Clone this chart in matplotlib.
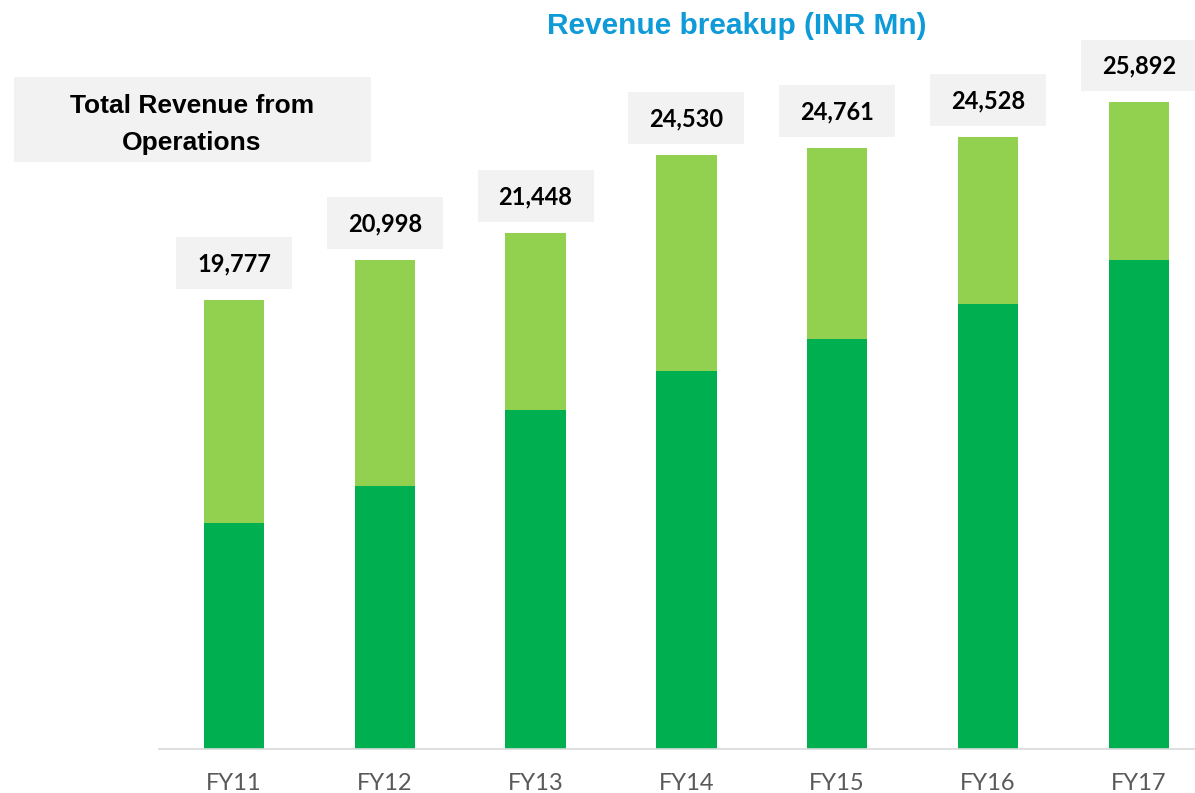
"""
Revenue breakup stacked bar chart (INR Mn).
"""

import matplotlib
matplotlib.use("Agg")
import matplotlib.pyplot as plt
from matplotlib.patches import Rectangle

# Data
years = ["FY11", "FY12", "FY13", "FY14", "FY15", "FY16", "FY17"]
base_segment = [9040, 10520, 13560, 15120, 16400, 17800, 19560]   # dark green
top_segment = [8920, 9040, 7080, 8640, 7640, 6680, 6320]          # light green
total_labels = [19777, 20998, 21448, 24530, 24761, 24528, 25892]

DARK_GREEN = "#00b050"
LIGHT_GREEN = "#92d050"
BOX_GREY = "#f2f2f2"
TITLE_BLUE = "#0f9ad8"

W, H = 1195, 793
fig = plt.figure(figsize=(W / 100, H / 100), dpi=100)

# axes placed in pixel terms: baseline at y=748.5, left edge at x=159
ax_left, ax_bottom, ax_top = 159, 748.5, 40
ax = fig.add_axes([ax_left / W, 1 - ax_bottom / H, 1 - ax_left / W,
                   (ax_bottom - ax_top) / H])

units_per_px = 40.0
x = list(range(len(years)))
width = 0.40

ax.bar(x, base_segment, width, color=DARK_GREEN, zorder=2)
ax.bar(x, top_segment, width, bottom=base_segment, color=LIGHT_GREEN, zorder=2)

ax.set_xlim(-0.497, 6.373)
ax.set_ylim(0, (ax_bottom - ax_top) * units_per_px)

# value boxes above bars
box_w = 116 / 150.8
box_h = 52 * units_per_px
gap = 11 * units_per_px
for xi, b, t, lab in zip(x, base_segment, top_segment, total_labels):
    top = b + t
    y0 = top + gap
    ax.add_patch(Rectangle((xi - box_w / 2, y0), box_w, box_h,
                           facecolor=BOX_GREY, edgecolor="none", zorder=3))
    ax.text(xi, y0 + box_h / 2 - 9 * units_per_px, f"{lab:,}",
            ha="center", va="baseline", fontsize=17, fontweight="bold",
            family="Lato", color="black", zorder=4)

for side in ["left", "right", "top"]:
    ax.spines[side].set_visible(False)
ax.spines["bottom"].set_color("#d9d9d9")
ax.spines["bottom"].set_linewidth(1.2)
ax.set_yticks([])
ax.set_xticks(x)
ax.set_xticklabels(years, fontsize=17, family="Lato", color="#595959")
ax.tick_params(axis="x", length=0, pad=18)

# title
fig.text(737 / W, 1 - 34 / H, "Revenue breakup (INR Mn)", ha="center",
         va="baseline", fontsize=21.5, fontweight="bold",
         family="Liberation Sans", color=TITLE_BLUE)

# side note box
fig.patches.append(Rectangle((14 / W, 1 - 162 / H), (371 - 14) / W, 85 / H,
                             transform=fig.transFigure, facecolor=BOX_GREY,
                             edgecolor="none", zorder=0))
fig.text(192 / W, 1 - 113 / H, "Total Revenue from", ha="center",
         va="baseline", fontsize=19, fontweight="bold",
         family="Liberation Sans", color="black")
fig.text(192 / W, 1 - 150 / H, "Operations", ha="center",
         va="baseline", fontsize=19, fontweight="bold",
         family="Liberation Sans", color="black")

fig.savefig("out.png", dpi=100)
